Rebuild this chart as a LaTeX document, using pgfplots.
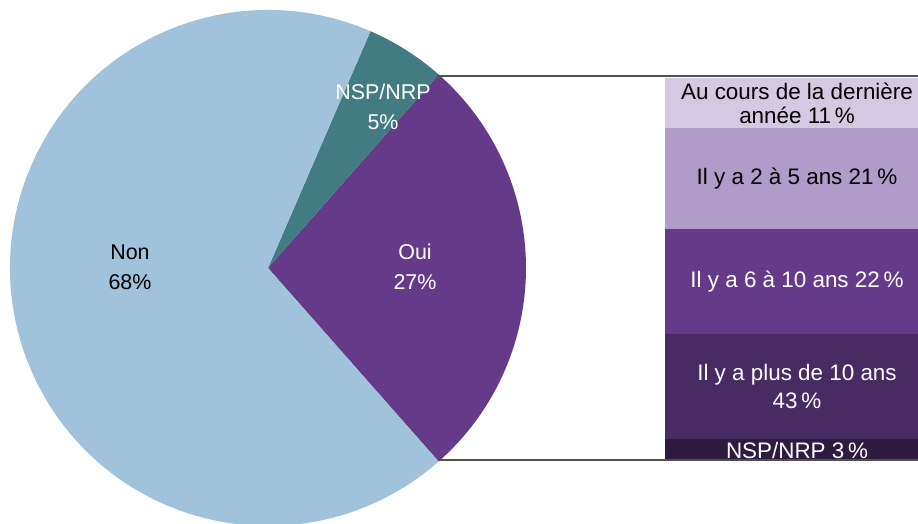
\documentclass[border=0pt]{standalone}
\usepackage{pgfplots}
\pgfplotsset{compat=1.18}
\usepackage{fontspec}
\setmainfont{Liberation Sans}
\definecolor{cNon}{HTML}{A0C2DB}
\definecolor{cNSP}{HTML}{427C82}
\definecolor{cOui}{HTML}{653A88}
\definecolor{cB1}{HTML}{D5C8E3}
\definecolor{cB2}{HTML}{B19BC9}
\definecolor{cB3}{HTML}{653A88}
\definecolor{cB4}{HTML}{482B63}
\definecolor{cB5}{HTML}{2E1C40}
\definecolor{cLine}{HTML}{505050}
\tikzset{barlbl/.style={font=\fontsize{22.5}{24}\selectfont, align=center, inner sep=0pt},
         barlblb/.style={font=\fontsize{22.5}{29}\selectfont, align=center, inner sep=0pt},
         pielbl/.style={font=\fontsize{21.5}{30}\selectfont, align=center}}
\begin{document}
\begin{tikzpicture}
\useasboundingbox (0,0) rectangle (918bp,524bp);
\clip (0,0) rectangle (918bp,524bp);
% ---- bar of pie (drawn heights) ----
\begin{axis}[at={(665bp,64bp)}, anchor=south west, scale only axis,
  width=264bp, height=382bp, xmin=0, xmax=1, ymin=0, ymax=100,
  hide axis, ybar stacked, bar width=1, clip=false]
\addplot[fill=cB5, draw=none] coordinates {(0.5,5.5)};
\addplot[fill=cB4, draw=none] coordinates {(0.5,27.5)};
\addplot[fill=cB3, draw=none] coordinates {(0.5,27.5)};
\addplot[fill=cB2, draw=none] coordinates {(0.5,26.4)};
\addplot[fill=cB1, draw=none] coordinates {(0.5,13.1)};
\end{axis}
% ---- pie ----
\begin{axis}[at={(0,0)}, anchor=south west, scale only axis,
  width=918bp, height=524bp, xmin=0, xmax=918, ymin=0, ymax=524,
  hide axis, clip=false]
\pgfmathsetmacro\vOui{27}
\pgfmathsetmacro\vNSP{5}
\pgfmathsetmacro\vNon{68}
\pgfmathsetmacro\aA{-\vOui*1.8}
\pgfmathsetmacro\aB{\vOui*1.8}
\pgfmathsetmacro\aC{\aB+\vNSP*3.6}
\pgfmathsetmacro\aD{\aC+\vNon*3.6}
\fill[cOui] (axis cs:268,256) -- ++(\aA:258bp) arc[start angle=\aA, end angle=\aB, radius=258bp] -- cycle;
\fill[cNSP] (axis cs:268,256) -- ++(\aB:258bp) arc[start angle=\aB, end angle=\aC, radius=258bp] -- cycle;
\fill[cNon] (axis cs:268,256) -- ++(\aC:258bp) arc[start angle=\aC, end angle=\aD, radius=258bp] -- cycle;
\draw[cLine, line width=2bp] (axis cs:437,447.5) -- (axis cs:918,447.5);
\draw[cLine, line width=2bp] (axis cs:439,63.5) -- (axis cs:918,63.5);
\node[pielbl, text=black] at (axis cs:130,257) {Non\\68\%};
\node[pielbl, text=white] at (axis cs:415,257) {Oui\\27\%};
\node[pielbl, text=white] at (axis cs:383,417) {NSP/NRP\\5\%};
% bar labels
\node[barlbl, text=white] at (axis cs:797,73.5) {NSP/NRP 3\,\%};
\node[barlblb, text=white] at (axis cs:797,137.5) {Il y a plus de 10 ans\\43\,\%};
\node[barlbl, text=white] at (axis cs:797,242.5) {Il y a 6 à 10 ans 22\,\%};
\node[barlbl, text=black] at (axis cs:797,345.5) {Il y a 2 à 5 ans 21\,\%};
\node[barlbl, text=black] at (axis cs:797,421) {Au cours de la dernière\\année 11\,\%};
\end{axis}
\end{tikzpicture}
\end{document}
